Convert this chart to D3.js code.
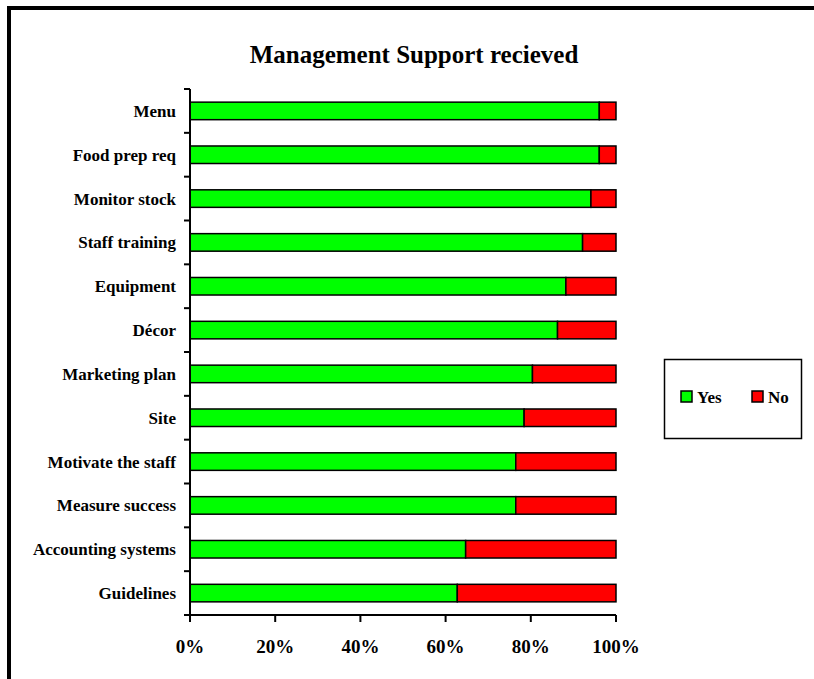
<!DOCTYPE html>
<html>
<head>
<meta charset="utf-8">
<script src="https://cdn.jsdelivr.net/npm/d3@7"></script>
<style>
  html, body { margin: 0; padding: 0; background: #fff; }
  svg { display: block; font-family: "Liberation Serif", "Times New Roman", serif; font-weight: bold; }
</style>
</head>
<body>
<svg id="chart" width="814" height="679"></svg>
<script>
// Survey responses (n = 51), top to bottom
const categories = ["Menu", "Food prep req", "Monitor stock", "Staff training", "Equipment",
  "Décor", "Marketing plan", "Site", "Motivate the staff", "Measure success",
  "Accounting systems", "Guidelines"];
const yesCounts = [49, 49, 48, 47, 45, 44, 41, 40, 39, 39, 33, 32];
const noCounts  = [2, 2, 3, 4, 6, 7, 10, 11, 12, 12, 18, 19];
const seriesNames = ["Yes", "No"];
const seriesColors = ["#00ff00", "#ff0000"];
const xTicks = [0, 0.2, 0.4, 0.6, 0.8, 1.0];
const title = "Management Support recieved";

const svg = d3.select("#chart");
svg.append("rect").attr("width", 814).attr("height", 679).attr("fill", "#fff");

// Outer frame (extends beyond the right and bottom edges)
svg.append("path")
  .attr("d", "M9,679 V8 H814")
  .attr("fill", "none").attr("stroke", "#000").attr("stroke-width", 4);

const plotLeft = 190, plotRight = 616, plotTop = 89, plotBottom = 615;

const rows = categories.map((c, i) => {
  const total = yesCounts[i] + noCounts[i];
  return { cat: c, Yes: yesCounts[i] / total, No: noCounts[i] / total };
});

const x = d3.scaleLinear().domain([0, 1]).range([plotLeft, plotRight]);
const y = d3.scaleBand().domain(categories).range([plotTop, plotBottom])
  .paddingInner(0.6).paddingOuter(0.3);

const stacked = d3.stack().keys(seriesNames)(rows);

// Title
svg.append("text")
  .attr("x", 414).attr("y", 63)
  .attr("text-anchor", "middle")
  .attr("font-size", 25)
  .text(title);

// Bars
stacked.forEach((layer, k) => {
  svg.append("g").selectAll("rect")
    .data(layer)
    .join("rect")
    .attr("x", d => x(d[0]))
    .attr("y", d => y(d.data.cat))
    .attr("width", d => x(d[1]) - x(d[0]))
    .attr("height", y.bandwidth())
    .attr("fill", seriesColors[k])
    .attr("stroke", "#000")
    .attr("stroke-width", 1.5);
});

// Y axis: line, ticks between categories, labels
const gy = svg.append("g");
gy.append("line")
  .attr("x1", plotLeft).attr("x2", plotLeft)
  .attr("y1", plotTop).attr("y2", plotBottom + 7)
  .attr("stroke", "#000").attr("stroke-width", 2);
const boundaries = categories.map(c => y(c) - (y.step() - y.bandwidth()) / 2).concat([plotBottom]);
gy.selectAll("line.tick")
  .data(boundaries)
  .join("line")
  .attr("class", "tick")
  .attr("x1", plotLeft - 6).attr("x2", plotLeft)
  .attr("y1", d => d).attr("y2", d => d)
  .attr("stroke", "#000").attr("stroke-width", 2);
gy.selectAll("text")
  .data(categories)
  .join("text")
  .attr("x", 176)
  .attr("y", c => y(c) + y.bandwidth() / 2)
  .attr("dy", "0.35em")
  .attr("text-anchor", "end")
  .attr("font-size", 17)
  .text(c => c);

// X axis
const gx = svg.append("g");
gx.append("line")
  .attr("x1", plotLeft).attr("x2", plotRight)
  .attr("y1", plotBottom).attr("y2", plotBottom)
  .attr("stroke", "#000").attr("stroke-width", 2);
gx.selectAll("line.tick")
  .data(xTicks)
  .join("line")
  .attr("class", "tick")
  .attr("x1", d => x(d)).attr("x2", d => x(d))
  .attr("y1", plotBottom).attr("y2", plotBottom + 7)
  .attr("stroke", "#000").attr("stroke-width", 2);
gx.selectAll("text")
  .data(xTicks)
  .join("text")
  .attr("x", d => x(d))
  .attr("y", 653)
  .attr("text-anchor", "middle")
  .attr("font-size", 19)
  .text(d => d3.format(".0%")(d));

// Legend
const lg = svg.append("g");
lg.append("rect")
  .attr("x", 664.5).attr("y", 359.5).attr("width", 137).attr("height", 79)
  .attr("fill", "#fff").attr("stroke", "#000").attr("stroke-width", 1.5);
const legendX = [681, 752];
seriesNames.forEach((s, i) => {
  lg.append("rect")
    .attr("x", legendX[i]).attr("y", 391).attr("width", 11).attr("height", 11)
    .attr("fill", seriesColors[i]).attr("stroke", "#000").attr("stroke-width", 1.5);
  lg.append("text")
    .attr("x", legendX[i] + 16).attr("y", 403)
    .attr("font-size", 17)
    .text(s);
});
</script>
</body>
</html>
